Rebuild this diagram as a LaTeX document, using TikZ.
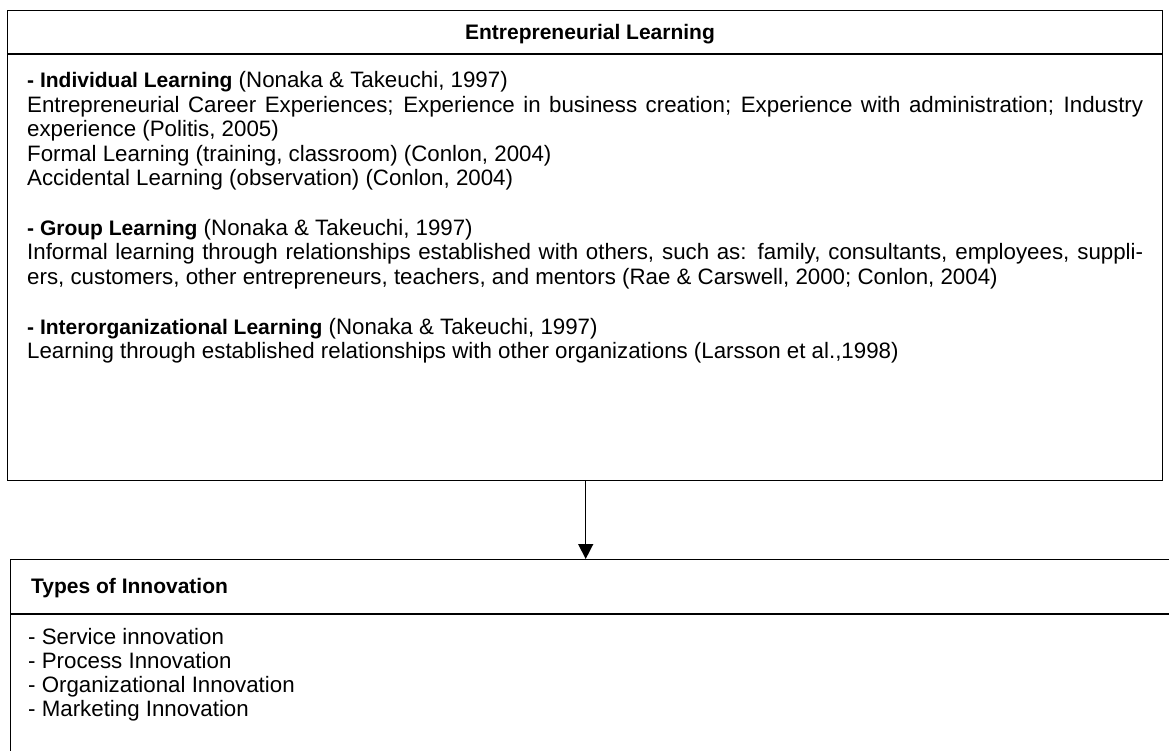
\documentclass[tikz,border=0pt]{standalone}
\usepackage{fontspec}
\setmainfont{Liberation Sans}
\usetikzlibrary{arrows.meta}
\newcommand{\bsec}[1]{{\fontsize{21}{24.5}\selectfont\bfseries #1}}
\begin{document}
\begin{tikzpicture}[x=1pt,y=1pt,
  box/.style={draw=black, line width=1.4pt, inner sep=0pt},
  rule/.style={draw=black, line width=1.4pt},
  txt/.style={anchor=base west, inner sep=0pt, font=\fontsize{22.3}{24.5}\selectfont},
  hdr/.style={inner sep=0pt, font=\fontsize{21}{24.5}\selectfont\bfseries},
  arr/.style={line width=1.4pt, -{Triangle[width=15pt,length=15pt]}}]
\useasboundingbox (0,0) rectangle (1169,-751);
\clip (0,0) rectangle (1169,-751);
% top box
\node[box, minimum width=1155pt, minimum height=470pt, anchor=north west] (el) at (7,-10) {};
\coordinate (elL) at (7,-54);
\coordinate (elR) at (1162,-54);
\draw[rule] (elL) -- (elR);
\node[hdr, anchor=base] (elt) at (590,-40) {Entrepreneurial Learning};
\node[txt] (l1) at (27,-88) {\bsec{- Individual Learning} (Nonaka \& Takeuchi, 1997)};
\node[txt] (l2) at (27,-113) {\makebox[1116pt][s]{Entrepreneurial Career Experiences; Experience in business creation; Experience with administration; Industry}};
\node[txt] (l3) at (27,-137) {experience (Politis, 2005)};
\node[txt] (l4) at (27,-162) {Formal Learning (training, classroom) (Conlon, 2004)};
\node[txt] (l5) at (27,-186) {Accidental Learning (observation) (Conlon, 2004)};
\node[txt] (l6) at (27,-236) {\bsec{- Group Learning} (Nonaka \& Takeuchi, 1997)};
\node[txt] (l7) at (27,-260) {\makebox[1116pt][s]{Informal learning through relationships established with others, such as: family, consultants, employees, suppli-}};
\node[txt] (l8) at (27,-284) {ers, customers, other entrepreneurs, teachers, and mentors (Rae \& Carswell, 2000; Conlon, 2004)};
\node[txt] (l9) at (27,-334) {\bsec{- Interorganizational Learning} (Nonaka \& Takeuchi, 1997)};
\node[txt] (l10) at (27,-358) {Learning through established relationships with other organizations (Larsson et al.,1998)};
% bottom box
\node[box, minimum width=1200pt, minimum height=260pt, anchor=north west] (ti) at (10,-559) {};
\coordinate (tiL) at (10,-614);
\coordinate (tiR) at (1169,-614);
\draw[rule] (tiL) -- (tiR);
\node[hdr, anchor=base west] (tit) at (31,-593) {Types of Innovation};
\node[txt] (m1) at (28,-644) {- Service innovation};
\node[txt] (m2) at (28,-668) {- Process Innovation};
\node[txt] (m3) at (28,-692) {- Organizational Innovation};
\node[txt] (m4) at (28,-716) {- Marketing Innovation};
% arrow
\draw[arr] ([xshift=0.5pt]el.south) -- ([xshift=0.5pt]el.south |- ti.north);
\end{tikzpicture}
\end{document}
